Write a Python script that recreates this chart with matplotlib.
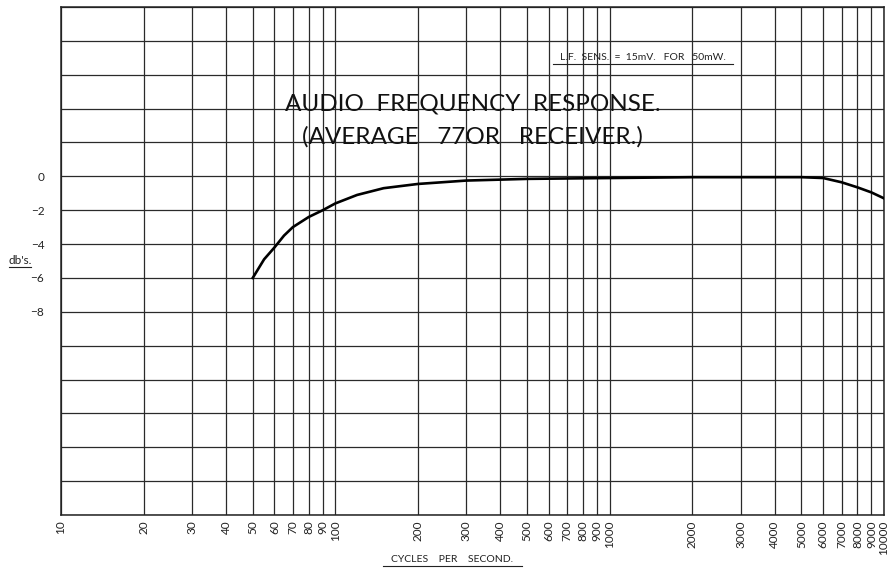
import matplotlib.pyplot as plt
from matplotlib.lines import Line2D
from matplotlib.ticker import FixedLocator, NullLocator

# response curve
freq = [50, 55, 60, 65, 70, 80, 90, 100, 120, 150, 200, 300, 500,
        1000, 2000, 5000, 6000, 7000, 8000, 9000, 10000]
db = [-6.0, -4.9, -4.2, -3.5, -3.0, -2.4, -2.0, -1.6, -1.1, -0.7, -0.45,
      -0.25, -0.15, -0.1, -0.05, -0.05, -0.1, -0.35, -0.65, -0.95, -1.3]

x_ticks = [10, 20, 30, 40, 50, 60, 70, 80, 90,
           100, 200, 300, 400, 500, 600, 700, 800, 900,
           1000, 2000, 3000, 4000, 5000, 6000, 7000, 8000, 9000, 10000]
x_labels = [str(v) for v in x_ticks]
y_grid = list(range(-20, 11, 2))
y_ticks = [0, -2, -4, -6, -8]
y_labels = ['0', '−2', '−4', '−6', '−8']

plt.rcParams['font.family'] = ['Lato', 'DejaVu Sans']

fig = plt.figure(figsize=(8.93, 5.70), dpi=100)
ax = fig.add_axes([61 / 893, 55 / 570, 823 / 893, 508 / 570])

ax.set_xscale('log')
ax.set_xlim(10, 10000)
ax.set_ylim(-20, 10)

# grid paper
for v in x_ticks:
    ax.axvline(v, color='#2a2a2a', lw=0.9, zorder=1)
for v in y_grid:
    ax.axhline(v, color='#2a2a2a', lw=0.9, zorder=1)

ax.plot(freq, db, color='black', lw=1.9, zorder=3)

ax.xaxis.set_major_locator(FixedLocator(x_ticks))
ax.xaxis.set_minor_locator(NullLocator())
ax.set_xticklabels(x_labels, rotation=90, fontsize=8.5, color='#222222')
ax.set_yticks(y_ticks)
ax.set_yticklabels(y_labels, fontsize=8.5, color='#222222')
ax.tick_params(length=0, pad=4)
ax.tick_params(axis='y', pad=12)

for s in ax.spines.values():
    s.set_color('#222222')
    s.set_linewidth(1.1)

# titles on the chart
ax.text(0.5, 0.81, 'AUDIO  FREQUENCY  RESPONSE.', transform=ax.transAxes,
        ha='center', va='center', fontsize=17.5, color='#111111')
ax.text(0.5, 0.745, '(AVERAGE   77OR   RECEIVER.)', transform=ax.transAxes,
        ha='center', va='center', fontsize=17.5, color='#111111')
fig.text(643 / 893, 1 - 57 / 570, 'L.F.  SENS.  =  15mV.   FOR   50mW.',
         ha='center', va='center', fontsize=7.5, color='#222222')
fig.add_artist(Line2D([553 / 893, 733 / 893], [1 - 64 / 570, 1 - 64 / 570],
                      color='#222222', lw=0.8))

# axis labels
fig.text(20 / 893, 1 - 260 / 570, "db's.", ha='center', va='center',
         fontsize=8.5, color='#222222')
fig.add_artist(Line2D([9 / 893, 31 / 893], [1 - 267 / 570, 1 - 267 / 570],
                      color='#222222', lw=0.8))
fig.text(452 / 893, 1 - 559 / 570, 'CYCLES    PER    SECOND.', ha='center',
         va='center', fontsize=7.5, color='#222222')
fig.add_artist(Line2D([383 / 893, 522 / 893], [1 - 566 / 570, 1 - 566 / 570],
                      color='#222222', lw=0.8))

fig.savefig('out.png', dpi=100, facecolor='white')
